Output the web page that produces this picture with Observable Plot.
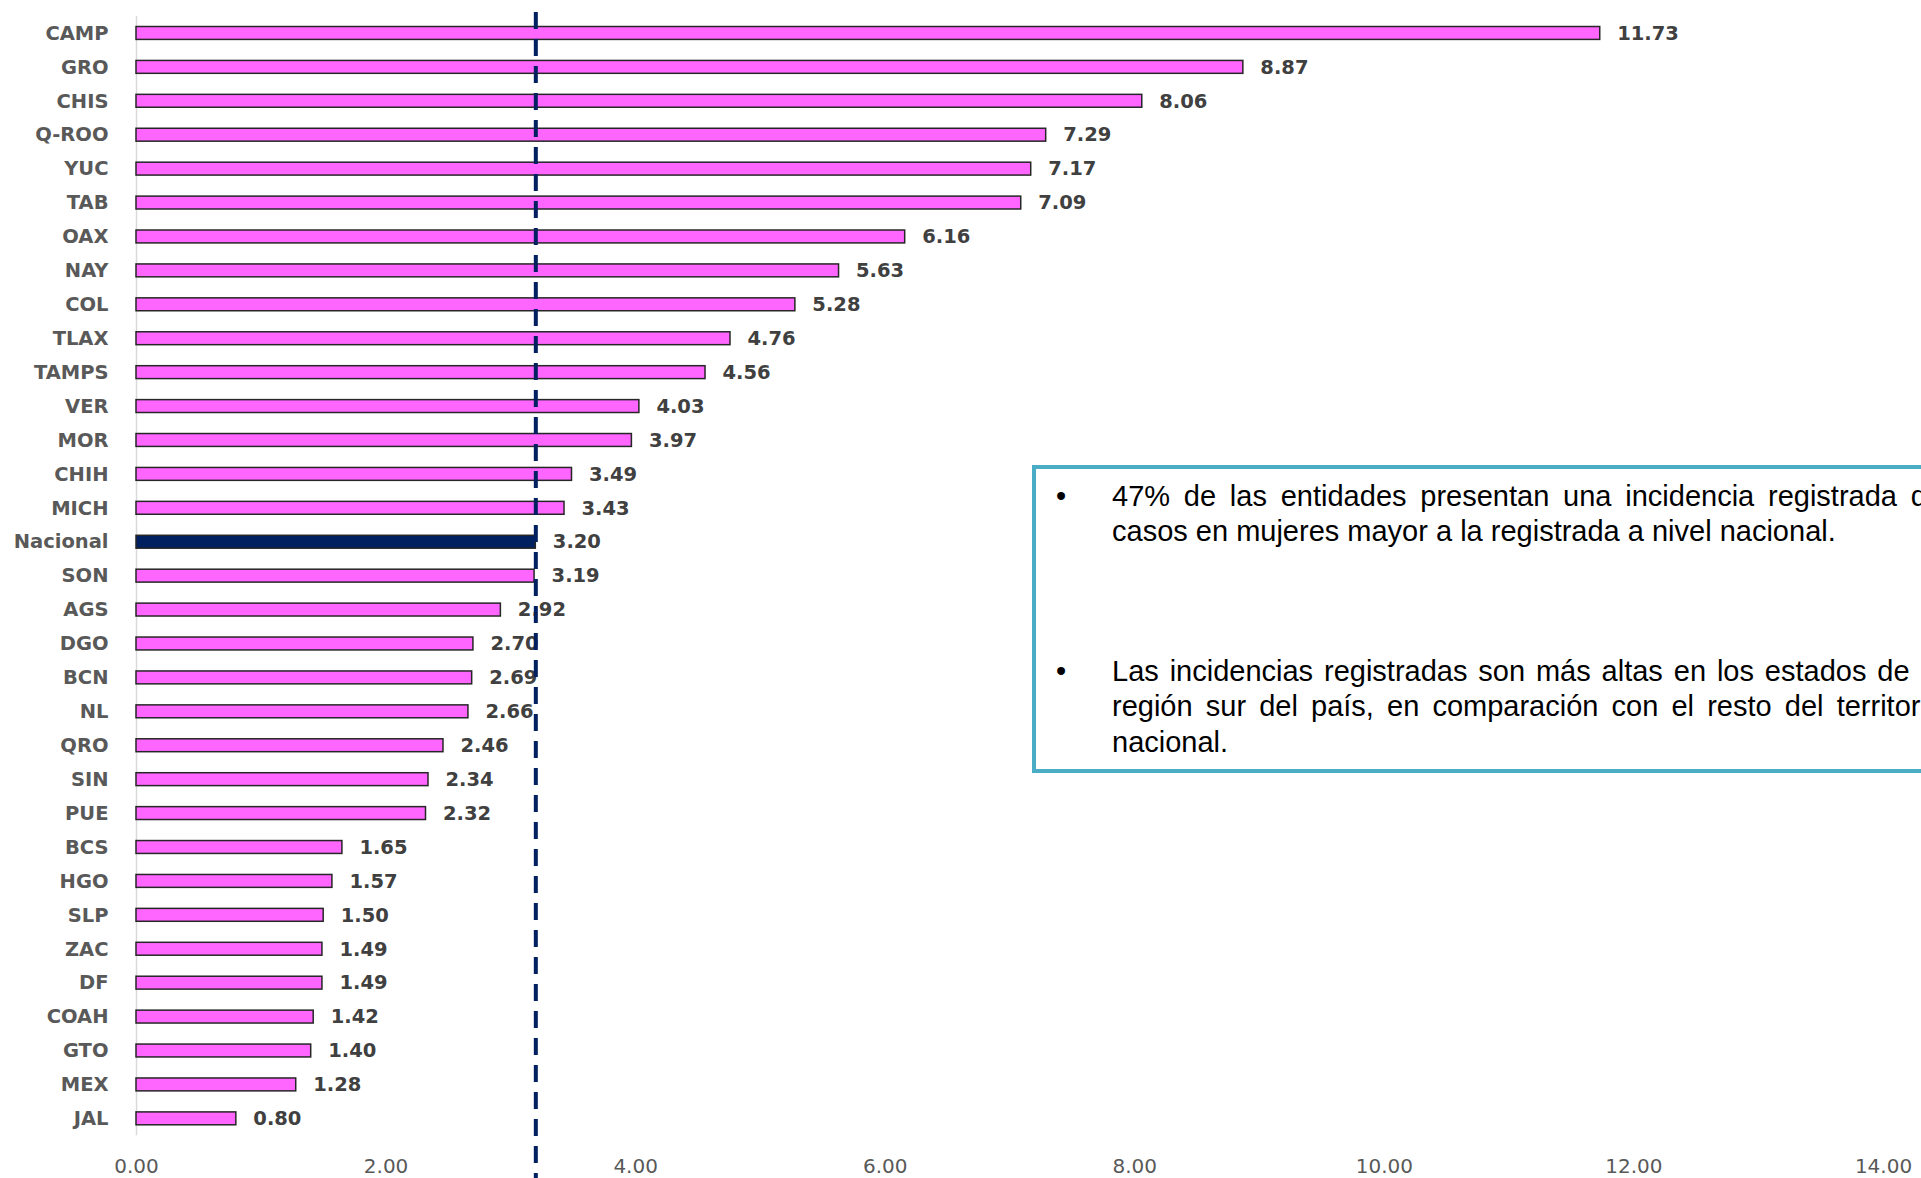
<!DOCTYPE html>
<html>
<head>
<meta charset="utf-8">
<script src="https://cdn.jsdelivr.net/npm/d3@7"></script>
<script src="https://cdn.jsdelivr.net/npm/@observablehq/plot@0.6"></script>
<style>
html, body { margin: 0; padding: 0; background: #fff; width: 1921px; height: 1178px; overflow: hidden; position: relative; }
#chart { position: absolute; left: 0; top: 0; }
#note { position: absolute; left: 1032px; top: 465px; width: 980px; height: 308px; border: 4px solid #4BACC6; box-sizing: border-box; font-family: "Liberation Sans", Arial, sans-serif; font-size: 29px; color: #000; background: #fff; }
.para { position: absolute; left: 76px; width: 831px; line-height: 35.4px; }
.line { white-space: nowrap; }
.just { text-align: justify; text-align-last: justify; white-space: normal; }
.bullet { position: absolute; left: -56px; top: 0; }
</style>
</head>
<body>
<div id="chart"></div>
<div id="note">
  <div class="para" style="top:9.7px">
    <span class="bullet">•</span>
    <div class="line just">47% de las entidades presentan una incidencia registrada de</div>
    <div class="line">casos en mujeres mayor a la registrada a nivel nacional.</div>
  </div>
  <div class="para" style="top:184.7px">
    <span class="bullet">•</span>
    <div class="line just">Las incidencias registradas son más altas en los estados de la</div>
    <div class="line just">región sur del país, en comparación con el resto del territorio</div>
    <div class="line">nacional.</div>
  </div>
</div>
<script>
const states = ["CAMP","GRO","CHIS","Q-ROO","YUC","TAB","OAX","NAY","COL","TLAX","TAMPS","VER","MOR","CHIH","MICH","Nacional","SON","AGS","DGO","BCN","NL","QRO","SIN","PUE","BCS","HGO","SLP","ZAC","DF","COAH","GTO","MEX","JAL"];
const values = [11.73,8.87,8.06,7.29,7.17,7.09,6.16,5.63,5.28,4.76,4.56,4.03,3.97,3.49,3.43,3.20,3.19,2.92,2.70,2.69,2.66,2.46,2.34,2.32,1.65,1.57,1.50,1.49,1.49,1.42,1.40,1.28,0.80];
const nationalName = "Nacional";
const xTicks = [0,2,4,6,8,10,12,14];

const data = states.map((s, i) => ({state: s, value: values[i]}));
const national = data.find(d => d.state === nationalName).value;
const fmt = d3.format(".2f");

const chart = Plot.plot({
  width: 1921,
  height: 1178,
  marginTop: 16,
  marginBottom: 42.7,
  marginLeft: 136,
  marginRight: 38,
  style: {fontFamily: "'DejaVu Sans', sans-serif", fontSize: "19.5px", background: "transparent", overflow: "visible"},
  x: {domain: [0, 14], axis: null},
  y: {domain: states, paddingInner: 0.62, paddingOuter: 0.31, round: false, axis: null},
  marks: [
    Plot.axisX({ticks: xTicks, tickFormat: fmt, tickSize: 0, tickPadding: 23, fontSize: 20, color: "#595959", label: null}),
    Plot.axisY({tickSize: 0, tickPadding: 28, fontSize: 19.5, fontWeight: "bold", color: "#595959", label: null}),
    Plot.ruleX([0], {stroke: "#d9d9d9", strokeWidth: 1.5}),
    Plot.barX(data, {
      y: "state", x: "value",
      fill: d => d.state === nationalName ? "#002060" : "#FF66FF",
      stroke: "#262626", strokeWidth: 1.5
    }),
    Plot.text(data, {
      y: "state", x: "value", text: d => fmt(d.value),
      textAnchor: "start", dx: 17, fill: "#404040", fontWeight: "bold", fontSize: 19.5
    }),
    Plot.ruleX([national], {stroke: "#002060", strokeWidth: 4, strokeDasharray: "17,10", insetTop: -4, insetBottom: -45})
  ]
});
document.getElementById("chart").appendChild(chart);
</script>
</body>
</html>
